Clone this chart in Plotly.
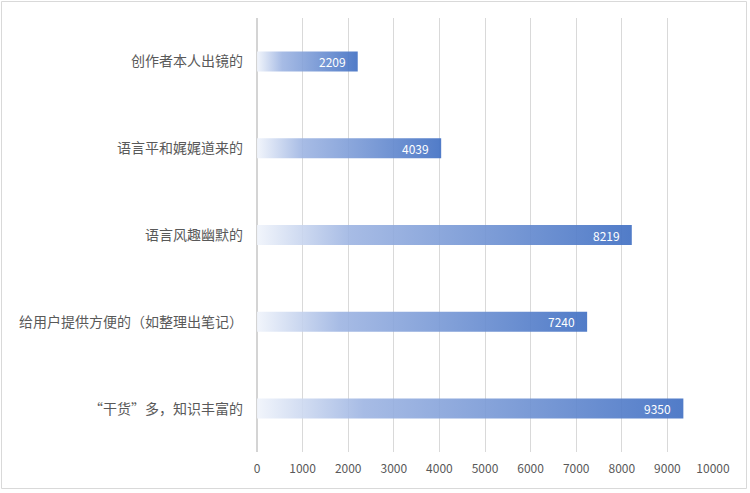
import plotly.graph_objects as go

# Survey answers, top to bottom
categories = [
    "创作者本人出镜的",
    "语言平和娓娓道来的",
    "语言风趣幽默的",
    "给用户提供方便的（如整理出笔记）",
    "“干货”多，知识丰富的",
]
counts = [2209, 4039, 8219, 7240, 9350]

x_ticks = list(range(0, 10001, 1000))
x_tick_labels = [str(v) for v in x_ticks]

W, H = 750, 493
ml, mr, mt, mb = 257, 37, 18, 41
half = 0.115  # half bar thickness, in category units

fig = go.Figure()

# Each bar is a filled box so it can carry a white-to-blue gradient
for i, (cat, val) in enumerate(zip(categories, counts)):
    fig.add_trace(go.Scatter(
        x=[0, val, val, 0, 0],
        y=[i - half, i - half, i + half, i + half, i - half],
        mode="lines",
        line=dict(width=0),
        fill="toself",
        fillgradient=dict(
            type="horizontal",
            colorscale=[[0, "rgba(240,244,251,0.9)"],
                        [0.25, "rgba(157,180,226,0.9)"],
                        [1, "rgba(68,114,196,0.93)"]],
        ),
        hoverinfo="skip",
        showlegend=False,
    ))
    fig.add_annotation(
        x=val, y=i, text=str(val), showarrow=False,
        xanchor="right", xshift=-10,
        font=dict(color="white", size=12),
    )

# Light frame around the whole chart
pw, ph = W - ml - mr, H - mt - mb
fig.add_shape(
    type="rect", xref="paper", yref="paper",
    x0=(1.5 - ml) / pw, x1=(W - 3.5 - ml) / pw,
    y0=-(H - 4.5 - (H - mb)) / ph, y1=(H - mb - 1.5) / ph,
    line=dict(color="#D9D9D9", width=1),
)

fig.update_layout(
    width=W, height=H,
    margin=dict(l=ml, r=mr, t=mt, b=mb, autoexpand=False),
    paper_bgcolor="white",
    plot_bgcolor="white",
    font=dict(family="Noto Sans CJK SC", color="#595959", size=14),
    xaxis=dict(
        range=[0, 10000],
        tickvals=x_ticks,
        ticktext=x_tick_labels,
        showgrid=True, gridcolor="#D9D9D9", gridwidth=1,
        zeroline=True, zerolinecolor="#D4D4D4", zerolinewidth=2,
        showline=False,
        automargin=False,
        ticklabelstandoff=8,
        tickfont=dict(size=12, color="#595959"),
    ),
    yaxis=dict(
        range=[len(categories) - 0.5, -0.5],
        tickvals=list(range(len(categories))),
        ticktext=categories,
        showgrid=False, zeroline=False, showline=False,
        automargin=False,
        ticklabelstandoff=13,
        tickfont=dict(size=14, color="#595959"),
    ),
)

# drop the default page margin so the chart sits at the window corner
fig.write_html("out.html", config={"displayModeBar": False},
               post_script="document.body.style.margin='0';")
